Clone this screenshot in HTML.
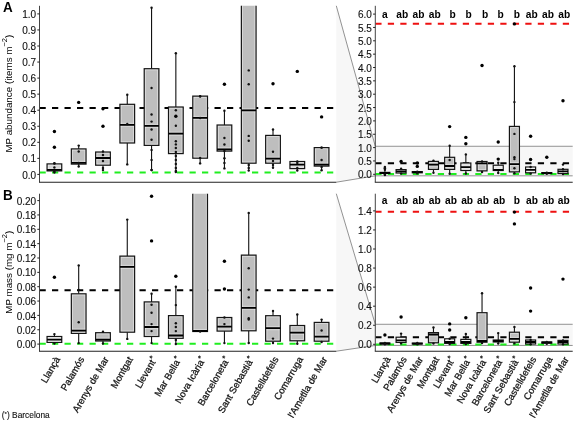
<!DOCTYPE html>
<html><head><meta charset="utf-8"><title>MP plot</title>
<style>html,body{margin:0;padding:0;background:#fff;}body{width:575px;height:422px;overflow:hidden;font-family:"Liberation Sans", sans-serif;}svg{display:block;will-change:transform;}</style>
</head><body>
<svg width="575" height="422" viewBox="0 0 575 422" font-family='"Liberation Sans", sans-serif'>
<rect width="575" height="422" fill="#fff"/>
<defs>
<clipPath id="cAL"><rect x="39.5" y="5.8" width="296.8" height="176.39999999999998"/></clipPath>
<clipPath id="cAR"><rect x="375.3" y="5.8" width="197.40000000000003" height="176.39999999999998"/></clipPath>
<clipPath id="cBL"><rect x="39.5" y="193.7" width="296.8" height="157.5"/></clipPath>
<clipPath id="cBR"><rect x="375.3" y="193.7" width="197.40000000000003" height="157.5"/></clipPath>
</defs>
<polygon points="336.3,5.8 375.3,146.26500000000001 572.7,146.26500000000001 572.7,175.835 375.3,175.835 336.3,182.2" fill="#f7f7f7"/>
<line x1="336.30" y1="5.80" x2="375.30" y2="146.27" stroke="#777" stroke-width="0.8" />
<line x1="336.30" y1="182.20" x2="375.30" y2="175.84" stroke="#777" stroke-width="0.8" />
<line x1="375.30" y1="146.27" x2="572.70" y2="146.27" stroke="#777" stroke-width="0.8" />
<line x1="375.30" y1="175.84" x2="572.70" y2="175.84" stroke="#777" stroke-width="0.8" />
<polygon points="336.3,193.7 375.3,324.28700000000003 572.7,324.28700000000003 572.7,345.453 375.3,345.453 336.3,351.2" fill="#f7f7f7"/>
<line x1="336.30" y1="193.70" x2="375.30" y2="324.29" stroke="#777" stroke-width="0.8" />
<line x1="336.30" y1="351.20" x2="375.30" y2="345.45" stroke="#777" stroke-width="0.8" />
<line x1="375.30" y1="324.29" x2="572.70" y2="324.29" stroke="#777" stroke-width="0.8" />
<line x1="375.30" y1="345.45" x2="572.70" y2="345.45" stroke="#777" stroke-width="0.8" />
<line x1="39.50" y1="107.90" x2="336.30" y2="107.90" stroke="#000" stroke-width="2" stroke-dasharray="6.25 6.25" clip-path="url(#cAL)"/>
<line x1="39.50" y1="172.50" x2="336.30" y2="172.50" stroke="#20ee20" stroke-width="2" stroke-dasharray="6.25 6.25" clip-path="url(#cAL)"/>
<line x1="375.30" y1="23.80" x2="572.70" y2="23.80" stroke="#ee1111" stroke-width="2" stroke-dasharray="6.25 6.25" clip-path="url(#cAR)"/>
<line x1="375.30" y1="163.30" x2="572.70" y2="163.30" stroke="#000" stroke-width="2" stroke-dasharray="6.25 6.25" clip-path="url(#cAR)"/>
<line x1="375.30" y1="174.10" x2="572.70" y2="174.10" stroke="#20ee20" stroke-width="2" stroke-dasharray="6.25 6.25" clip-path="url(#cAR)"/>
<line x1="39.50" y1="290.20" x2="336.30" y2="290.20" stroke="#000" stroke-width="2" stroke-dasharray="6.25 6.25" clip-path="url(#cBL)"/>
<line x1="39.50" y1="343.80" x2="336.30" y2="343.80" stroke="#20ee20" stroke-width="2" stroke-dasharray="6.25 6.25" clip-path="url(#cBL)"/>
<line x1="375.30" y1="211.80" x2="572.70" y2="211.80" stroke="#ee1111" stroke-width="2" stroke-dasharray="6.25 6.25" clip-path="url(#cBR)"/>
<line x1="375.30" y1="337.20" x2="572.70" y2="337.20" stroke="#000" stroke-width="2" stroke-dasharray="6.25 6.25" clip-path="url(#cBR)"/>
<line x1="375.30" y1="344.60" x2="572.70" y2="344.60" stroke="#20ee20" stroke-width="2" stroke-dasharray="6.25 6.25" clip-path="url(#cBR)"/>
<g clip-path="url(#cAL)">
<line x1="54.40" y1="163.20" x2="54.40" y2="163.90" stroke="#111" stroke-width="1.1" />
<line x1="54.40" y1="170.90" x2="54.40" y2="172.60" stroke="#111" stroke-width="1.1" />
<rect x="47.05" y="163.90" width="14.70" height="7.00" fill="#d4d4d4" stroke="#151515" stroke-width="1.2"/>
<rect x="48.30" y="165.15" width="12.20" height="4.50" fill="none" stroke="#fff" stroke-opacity="0.55" stroke-width="0.7"/>
<line x1="47.85" y1="168.25" x2="60.95" y2="168.25" stroke="#fff" stroke-width="0.7" stroke-opacity="0.55"/>
<line x1="47.05" y1="169.80" x2="61.75" y2="169.80" stroke="#000" stroke-width="1.8" />
<circle cx="54.40" cy="163.50" r="1.2" fill="#111"/>
<circle cx="54.40" cy="167.50" r="1.2" fill="#111"/>
<circle cx="54.40" cy="171.50" r="1.2" fill="#111"/>
<circle cx="54.40" cy="163.20" r="1.2" fill="#111"/>
<circle cx="54.40" cy="172.60" r="1.2" fill="#111"/>
<circle cx="54.40" cy="131.50" r="1.7" fill="#000"/>
<circle cx="54.40" cy="147.20" r="1.7" fill="#000"/>
<line x1="78.69" y1="145.60" x2="78.69" y2="148.90" stroke="#111" stroke-width="1.1" />
<line x1="78.69" y1="164.10" x2="78.69" y2="166.50" stroke="#111" stroke-width="1.1" />
<rect x="71.34" y="148.90" width="14.70" height="15.20" fill="#bebebe" stroke="#151515" stroke-width="1.2"/>
<rect x="72.59" y="150.15" width="12.20" height="12.70" fill="none" stroke="#fff" stroke-opacity="0.55" stroke-width="0.7"/>
<line x1="72.14" y1="161.25" x2="85.24" y2="161.25" stroke="#fff" stroke-width="0.7" stroke-opacity="0.55"/>
<line x1="71.34" y1="162.80" x2="86.04" y2="162.80" stroke="#000" stroke-width="1.8" />
<circle cx="78.69" cy="151.50" r="1.2" fill="#111"/>
<circle cx="78.69" cy="163.00" r="1.2" fill="#111"/>
<circle cx="78.69" cy="145.60" r="1.2" fill="#111"/>
<circle cx="78.69" cy="166.50" r="1.2" fill="#111"/>
<circle cx="78.69" cy="102.40" r="1.7" fill="#000"/>
<line x1="102.98" y1="151.50" x2="102.98" y2="152.00" stroke="#111" stroke-width="1.1" />
<line x1="102.98" y1="165.20" x2="102.98" y2="170.10" stroke="#111" stroke-width="1.1" />
<rect x="95.63" y="152.00" width="14.70" height="13.20" fill="#bebebe" stroke="#151515" stroke-width="1.2"/>
<rect x="96.88" y="153.25" width="12.20" height="10.70" fill="none" stroke="#fff" stroke-opacity="0.55" stroke-width="0.7"/>
<line x1="96.43" y1="156.45" x2="109.53" y2="156.45" stroke="#fff" stroke-width="0.7" stroke-opacity="0.55"/>
<line x1="96.43" y1="159.55" x2="109.53" y2="159.55" stroke="#fff" stroke-width="0.7" stroke-opacity="0.55"/>
<line x1="95.63" y1="158.00" x2="110.33" y2="158.00" stroke="#000" stroke-width="1.8" />
<circle cx="102.98" cy="155.00" r="1.2" fill="#111"/>
<circle cx="102.98" cy="161.00" r="1.2" fill="#111"/>
<circle cx="102.98" cy="168.00" r="1.2" fill="#111"/>
<circle cx="102.98" cy="151.50" r="1.2" fill="#111"/>
<circle cx="102.98" cy="170.10" r="1.2" fill="#111"/>
<circle cx="102.98" cy="126.30" r="1.7" fill="#000"/>
<circle cx="102.98" cy="108.80" r="1.7" fill="#000"/>
<line x1="127.27" y1="94.70" x2="127.27" y2="104.30" stroke="#111" stroke-width="1.1" />
<line x1="127.27" y1="143.00" x2="127.27" y2="164.40" stroke="#111" stroke-width="1.1" />
<rect x="119.92" y="104.30" width="14.70" height="38.70" fill="#bebebe" stroke="#151515" stroke-width="1.2"/>
<rect x="121.17" y="105.55" width="12.20" height="36.20" fill="none" stroke="#fff" stroke-opacity="0.55" stroke-width="0.7"/>
<line x1="120.72" y1="123.25" x2="133.82" y2="123.25" stroke="#fff" stroke-width="0.7" stroke-opacity="0.55"/>
<line x1="120.72" y1="126.35" x2="133.82" y2="126.35" stroke="#fff" stroke-width="0.7" stroke-opacity="0.55"/>
<line x1="119.92" y1="124.80" x2="134.62" y2="124.80" stroke="#000" stroke-width="1.8" />
<circle cx="127.27" cy="124.00" r="1.2" fill="#111"/>
<circle cx="127.27" cy="94.70" r="1.2" fill="#111"/>
<circle cx="127.27" cy="164.40" r="1.2" fill="#111"/>
<line x1="151.56" y1="7.70" x2="151.56" y2="68.70" stroke="#111" stroke-width="1.1" />
<line x1="151.56" y1="145.40" x2="151.56" y2="170.00" stroke="#111" stroke-width="1.1" />
<rect x="144.21" y="68.70" width="14.70" height="76.70" fill="#bebebe" stroke="#151515" stroke-width="1.2"/>
<rect x="145.46" y="69.95" width="12.20" height="74.20" fill="none" stroke="#fff" stroke-opacity="0.55" stroke-width="0.7"/>
<line x1="145.01" y1="124.25" x2="158.11" y2="124.25" stroke="#fff" stroke-width="0.7" stroke-opacity="0.55"/>
<line x1="145.01" y1="127.35" x2="158.11" y2="127.35" stroke="#fff" stroke-width="0.7" stroke-opacity="0.55"/>
<line x1="144.21" y1="125.80" x2="158.91" y2="125.80" stroke="#000" stroke-width="1.8" />
<circle cx="151.56" cy="88.00" r="1.2" fill="#111"/>
<circle cx="151.56" cy="114.50" r="1.2" fill="#111"/>
<circle cx="151.56" cy="121.60" r="1.2" fill="#111"/>
<circle cx="151.56" cy="129.50" r="1.2" fill="#111"/>
<circle cx="151.56" cy="139.70" r="1.2" fill="#111"/>
<circle cx="151.56" cy="150.00" r="1.2" fill="#111"/>
<circle cx="151.56" cy="160.00" r="1.2" fill="#111"/>
<circle cx="151.56" cy="170.00" r="1.2" fill="#111"/>
<circle cx="151.56" cy="7.70" r="1.2" fill="#111"/>
<circle cx="151.56" cy="170.00" r="1.2" fill="#111"/>
<line x1="175.85" y1="53.30" x2="175.85" y2="107.00" stroke="#111" stroke-width="1.1" />
<line x1="175.85" y1="153.60" x2="175.85" y2="172.00" stroke="#111" stroke-width="1.1" />
<rect x="168.50" y="107.00" width="14.70" height="46.60" fill="#bebebe" stroke="#151515" stroke-width="1.2"/>
<rect x="169.75" y="108.25" width="12.20" height="44.10" fill="none" stroke="#fff" stroke-opacity="0.55" stroke-width="0.7"/>
<line x1="169.30" y1="132.15" x2="182.40" y2="132.15" stroke="#fff" stroke-width="0.7" stroke-opacity="0.55"/>
<line x1="169.30" y1="135.25" x2="182.40" y2="135.25" stroke="#fff" stroke-width="0.7" stroke-opacity="0.55"/>
<line x1="168.50" y1="133.70" x2="183.20" y2="133.70" stroke="#000" stroke-width="1.8" />
<circle cx="175.85" cy="110.30" r="1.2" fill="#111"/>
<circle cx="175.85" cy="125.80" r="1.2" fill="#111"/>
<circle cx="175.85" cy="141.20" r="1.2" fill="#111"/>
<circle cx="175.85" cy="144.40" r="1.2" fill="#111"/>
<circle cx="175.85" cy="148.00" r="1.2" fill="#111"/>
<circle cx="175.85" cy="152.00" r="1.2" fill="#111"/>
<circle cx="175.85" cy="156.00" r="1.2" fill="#111"/>
<circle cx="175.85" cy="160.00" r="1.2" fill="#111"/>
<circle cx="175.85" cy="164.00" r="1.2" fill="#111"/>
<circle cx="175.85" cy="168.00" r="1.2" fill="#111"/>
<circle cx="175.85" cy="171.00" r="1.2" fill="#111"/>
<circle cx="175.85" cy="53.30" r="1.2" fill="#111"/>
<circle cx="175.85" cy="172.00" r="1.2" fill="#111"/>
<circle cx="175.85" cy="116.20" r="1.7" fill="#000"/>
<line x1="200.14" y1="96.10" x2="200.14" y2="96.10" stroke="#111" stroke-width="1.1" />
<line x1="200.14" y1="158.20" x2="200.14" y2="163.40" stroke="#111" stroke-width="1.1" />
<rect x="192.79" y="96.10" width="14.70" height="62.10" fill="#bebebe" stroke="#151515" stroke-width="1.2"/>
<rect x="194.04" y="97.35" width="12.20" height="59.60" fill="none" stroke="#fff" stroke-opacity="0.55" stroke-width="0.7"/>
<line x1="193.59" y1="116.35" x2="206.69" y2="116.35" stroke="#fff" stroke-width="0.7" stroke-opacity="0.55"/>
<line x1="193.59" y1="119.45" x2="206.69" y2="119.45" stroke="#fff" stroke-width="0.7" stroke-opacity="0.55"/>
<line x1="192.79" y1="117.90" x2="207.49" y2="117.90" stroke="#000" stroke-width="1.8" />
<circle cx="200.14" cy="96.50" r="1.2" fill="#111"/>
<circle cx="200.14" cy="118.00" r="1.2" fill="#111"/>
<circle cx="200.14" cy="158.00" r="1.2" fill="#111"/>
<circle cx="200.14" cy="96.10" r="1.2" fill="#111"/>
<circle cx="200.14" cy="163.40" r="1.2" fill="#111"/>
<line x1="224.43" y1="110.80" x2="224.43" y2="125.00" stroke="#111" stroke-width="1.1" />
<line x1="224.43" y1="151.10" x2="224.43" y2="168.40" stroke="#111" stroke-width="1.1" />
<rect x="217.08" y="125.00" width="14.70" height="26.10" fill="#bebebe" stroke="#151515" stroke-width="1.2"/>
<rect x="218.33" y="126.25" width="12.20" height="23.60" fill="none" stroke="#fff" stroke-opacity="0.55" stroke-width="0.7"/>
<line x1="217.88" y1="147.85" x2="230.98" y2="147.85" stroke="#fff" stroke-width="0.7" stroke-opacity="0.55"/>
<line x1="217.08" y1="149.40" x2="231.78" y2="149.40" stroke="#000" stroke-width="1.8" />
<circle cx="224.43" cy="138.00" r="1.2" fill="#111"/>
<circle cx="224.43" cy="144.50" r="1.2" fill="#111"/>
<circle cx="224.43" cy="151.00" r="1.2" fill="#111"/>
<circle cx="224.43" cy="158.20" r="1.2" fill="#111"/>
<circle cx="224.43" cy="163.00" r="1.2" fill="#111"/>
<circle cx="224.43" cy="110.80" r="1.2" fill="#111"/>
<circle cx="224.43" cy="168.40" r="1.2" fill="#111"/>
<circle cx="224.43" cy="84.30" r="1.7" fill="#000"/>
<line x1="248.72" y1="3.80" x2="248.72" y2="3.80" stroke="#111" stroke-width="1.1" />
<line x1="248.72" y1="163.20" x2="248.72" y2="170.60" stroke="#111" stroke-width="1.1" />
<rect x="241.37" y="3.80" width="14.70" height="159.40" fill="#bebebe" stroke="#151515" stroke-width="1.2"/>
<rect x="242.62" y="5.05" width="12.20" height="156.90" fill="none" stroke="#fff" stroke-opacity="0.55" stroke-width="0.7"/>
<line x1="242.17" y1="108.75" x2="255.27" y2="108.75" stroke="#fff" stroke-width="0.7" stroke-opacity="0.55"/>
<line x1="242.17" y1="111.85" x2="255.27" y2="111.85" stroke="#fff" stroke-width="0.7" stroke-opacity="0.55"/>
<line x1="241.37" y1="110.30" x2="256.07" y2="110.30" stroke="#000" stroke-width="1.8" />
<circle cx="248.72" cy="70.40" r="1.2" fill="#111"/>
<circle cx="248.72" cy="84.20" r="1.2" fill="#111"/>
<circle cx="248.72" cy="135.90" r="1.2" fill="#111"/>
<circle cx="248.72" cy="140.80" r="1.2" fill="#111"/>
<circle cx="248.72" cy="165.00" r="1.2" fill="#111"/>
<circle cx="248.72" cy="168.00" r="1.2" fill="#111"/>
<circle cx="248.72" cy="170.60" r="1.2" fill="#111"/>
<line x1="273.01" y1="129.50" x2="273.01" y2="135.40" stroke="#111" stroke-width="1.1" />
<line x1="273.01" y1="163.20" x2="273.01" y2="167.80" stroke="#111" stroke-width="1.1" />
<rect x="265.66" y="135.40" width="14.70" height="27.80" fill="#bebebe" stroke="#151515" stroke-width="1.2"/>
<rect x="266.91" y="136.65" width="12.20" height="25.30" fill="none" stroke="#fff" stroke-opacity="0.55" stroke-width="0.7"/>
<line x1="266.46" y1="157.15" x2="279.56" y2="157.15" stroke="#fff" stroke-width="0.7" stroke-opacity="0.55"/>
<line x1="266.46" y1="160.25" x2="279.56" y2="160.25" stroke="#fff" stroke-width="0.7" stroke-opacity="0.55"/>
<line x1="265.66" y1="158.70" x2="280.36" y2="158.70" stroke="#000" stroke-width="1.8" />
<circle cx="273.01" cy="151.80" r="1.2" fill="#111"/>
<circle cx="273.01" cy="161.00" r="1.2" fill="#111"/>
<circle cx="273.01" cy="165.00" r="1.2" fill="#111"/>
<circle cx="273.01" cy="129.50" r="1.2" fill="#111"/>
<circle cx="273.01" cy="167.80" r="1.2" fill="#111"/>
<circle cx="273.01" cy="83.80" r="1.7" fill="#000"/>
<line x1="297.30" y1="161.50" x2="297.30" y2="161.50" stroke="#111" stroke-width="1.1" />
<line x1="297.30" y1="168.60" x2="297.30" y2="170.50" stroke="#111" stroke-width="1.1" />
<rect x="289.95" y="161.50" width="14.70" height="7.10" fill="#d4d4d4" stroke="#151515" stroke-width="1.2"/>
<rect x="291.20" y="162.75" width="12.20" height="4.60" fill="none" stroke="#fff" stroke-opacity="0.55" stroke-width="0.7"/>
<line x1="290.75" y1="163.05" x2="303.85" y2="163.05" stroke="#fff" stroke-width="0.7" stroke-opacity="0.55"/>
<line x1="290.75" y1="166.15" x2="303.85" y2="166.15" stroke="#fff" stroke-width="0.7" stroke-opacity="0.55"/>
<line x1="289.95" y1="164.60" x2="304.65" y2="164.60" stroke="#000" stroke-width="1.8" />
<circle cx="297.30" cy="163.00" r="1.2" fill="#111"/>
<circle cx="297.30" cy="168.00" r="1.2" fill="#111"/>
<circle cx="297.30" cy="161.50" r="1.2" fill="#111"/>
<circle cx="297.30" cy="170.50" r="1.2" fill="#111"/>
<circle cx="297.30" cy="71.40" r="1.7" fill="#000"/>
<line x1="321.59" y1="147.60" x2="321.59" y2="147.60" stroke="#111" stroke-width="1.1" />
<line x1="321.59" y1="166.10" x2="321.59" y2="170.30" stroke="#111" stroke-width="1.1" />
<rect x="314.24" y="147.60" width="14.70" height="18.50" fill="#bebebe" stroke="#151515" stroke-width="1.2"/>
<rect x="315.49" y="148.85" width="12.20" height="16.00" fill="none" stroke="#fff" stroke-opacity="0.55" stroke-width="0.7"/>
<line x1="315.04" y1="163.05" x2="328.14" y2="163.05" stroke="#fff" stroke-width="0.7" stroke-opacity="0.55"/>
<line x1="314.24" y1="164.60" x2="328.94" y2="164.60" stroke="#000" stroke-width="1.8" />
<circle cx="321.59" cy="147.60" r="1.2" fill="#111"/>
<circle cx="321.59" cy="160.00" r="1.2" fill="#111"/>
<circle cx="321.59" cy="167.00" r="1.2" fill="#111"/>
<circle cx="321.59" cy="147.60" r="1.2" fill="#111"/>
<circle cx="321.59" cy="170.30" r="1.2" fill="#111"/>
<circle cx="321.59" cy="116.90" r="1.7" fill="#000"/>
</g>
<g clip-path="url(#cAR)">
<line x1="384.90" y1="168.00" x2="384.90" y2="172.40" stroke="#111" stroke-width="1.1" />
<line x1="384.90" y1="173.40" x2="384.90" y2="175.00" stroke="#111" stroke-width="1.1" />
<rect x="379.90" y="172.40" width="10.00" height="1.00" fill="#e6e6e6" stroke="#151515" stroke-width="1.2"/>
<line x1="379.90" y1="173.00" x2="389.90" y2="173.00" stroke="#000" stroke-width="1.8" />
<circle cx="384.90" cy="166.90" r="1.2" fill="#111"/>
<circle cx="384.90" cy="168.30" r="1.2" fill="#111"/>
<circle cx="384.90" cy="169.80" r="1.2" fill="#111"/>
<circle cx="384.90" cy="174.50" r="1.2" fill="#111"/>
<circle cx="384.90" cy="168.00" r="1.2" fill="#111"/>
<circle cx="384.90" cy="175.00" r="1.2" fill="#111"/>
<line x1="401.09" y1="168.80" x2="401.09" y2="169.60" stroke="#111" stroke-width="1.1" />
<line x1="401.09" y1="173.00" x2="401.09" y2="173.60" stroke="#111" stroke-width="1.1" />
<rect x="396.09" y="169.60" width="10.00" height="3.40" fill="#e6e6e6" stroke="#151515" stroke-width="1.2"/>
<rect x="397.34" y="170.85" width="7.50" height="0.90" fill="none" stroke="#fff" stroke-opacity="0.55" stroke-width="0.7"/>
<line x1="396.09" y1="171.40" x2="406.09" y2="171.40" stroke="#000" stroke-width="1.8" />
<circle cx="401.09" cy="168.80" r="1.2" fill="#111"/>
<circle cx="401.09" cy="173.60" r="1.2" fill="#111"/>
<circle cx="401.09" cy="161.40" r="1.7" fill="#000"/>
<line x1="417.28" y1="171.60" x2="417.28" y2="171.60" stroke="#111" stroke-width="1.1" />
<line x1="417.28" y1="172.80" x2="417.28" y2="173.40" stroke="#111" stroke-width="1.1" />
<rect x="412.28" y="171.60" width="10.00" height="1.20" fill="#e6e6e6" stroke="#151515" stroke-width="1.2"/>
<line x1="412.28" y1="172.20" x2="422.28" y2="172.20" stroke="#000" stroke-width="1.8" />
<circle cx="417.28" cy="171.60" r="1.2" fill="#111"/>
<circle cx="417.28" cy="173.40" r="1.2" fill="#111"/>
<circle cx="417.28" cy="163.00" r="1.7" fill="#000"/>
<circle cx="417.28" cy="166.40" r="1.7" fill="#000"/>
<line x1="433.47" y1="160.60" x2="433.47" y2="161.40" stroke="#111" stroke-width="1.1" />
<line x1="433.47" y1="169.40" x2="433.47" y2="172.70" stroke="#111" stroke-width="1.1" />
<rect x="428.47" y="161.40" width="10.00" height="8.00" fill="#bebebe" stroke="#151515" stroke-width="1.2"/>
<rect x="429.72" y="162.65" width="7.50" height="5.50" fill="none" stroke="#fff" stroke-opacity="0.55" stroke-width="0.7"/>
<line x1="429.27" y1="163.15" x2="437.67" y2="163.15" stroke="#fff" stroke-width="0.7" stroke-opacity="0.55"/>
<line x1="429.27" y1="166.25" x2="437.67" y2="166.25" stroke="#fff" stroke-width="0.7" stroke-opacity="0.55"/>
<line x1="428.47" y1="164.70" x2="438.47" y2="164.70" stroke="#000" stroke-width="1.8" />
<circle cx="433.47" cy="160.60" r="1.2" fill="#111"/>
<circle cx="433.47" cy="172.70" r="1.2" fill="#111"/>
<line x1="449.66" y1="145.70" x2="449.66" y2="157.30" stroke="#111" stroke-width="1.1" />
<line x1="449.66" y1="169.40" x2="449.66" y2="173.80" stroke="#111" stroke-width="1.1" />
<rect x="444.66" y="157.30" width="10.00" height="12.10" fill="#bebebe" stroke="#151515" stroke-width="1.2"/>
<rect x="445.91" y="158.55" width="7.50" height="9.60" fill="none" stroke="#fff" stroke-opacity="0.55" stroke-width="0.7"/>
<line x1="445.46" y1="164.45" x2="453.86" y2="164.45" stroke="#fff" stroke-width="0.7" stroke-opacity="0.55"/>
<line x1="445.46" y1="167.55" x2="453.86" y2="167.55" stroke="#fff" stroke-width="0.7" stroke-opacity="0.55"/>
<line x1="444.66" y1="166.00" x2="454.66" y2="166.00" stroke="#000" stroke-width="1.8" />
<circle cx="449.66" cy="160.00" r="1.2" fill="#111"/>
<circle cx="449.66" cy="145.70" r="1.2" fill="#111"/>
<circle cx="449.66" cy="173.80" r="1.2" fill="#111"/>
<circle cx="449.66" cy="126.60" r="1.7" fill="#000"/>
<line x1="465.85" y1="154.40" x2="465.85" y2="163.00" stroke="#111" stroke-width="1.1" />
<line x1="465.85" y1="170.50" x2="465.85" y2="173.50" stroke="#111" stroke-width="1.1" />
<rect x="460.85" y="163.00" width="10.00" height="7.50" fill="#d4d4d4" stroke="#151515" stroke-width="1.2"/>
<rect x="462.10" y="164.25" width="7.50" height="5.00" fill="none" stroke="#fff" stroke-opacity="0.55" stroke-width="0.7"/>
<line x1="461.65" y1="165.65" x2="470.05" y2="165.65" stroke="#fff" stroke-width="0.7" stroke-opacity="0.55"/>
<line x1="461.65" y1="168.75" x2="470.05" y2="168.75" stroke="#fff" stroke-width="0.7" stroke-opacity="0.55"/>
<line x1="460.85" y1="167.20" x2="470.85" y2="167.20" stroke="#000" stroke-width="1.8" />
<circle cx="465.85" cy="154.40" r="1.2" fill="#111"/>
<circle cx="465.85" cy="173.50" r="1.2" fill="#111"/>
<circle cx="465.85" cy="137.40" r="1.7" fill="#000"/>
<circle cx="465.85" cy="143.70" r="1.7" fill="#000"/>
<line x1="482.04" y1="161.50" x2="482.04" y2="161.50" stroke="#111" stroke-width="1.1" />
<line x1="482.04" y1="170.90" x2="482.04" y2="172.00" stroke="#111" stroke-width="1.1" />
<rect x="477.04" y="161.50" width="10.00" height="9.40" fill="#bebebe" stroke="#151515" stroke-width="1.2"/>
<rect x="478.29" y="162.75" width="7.50" height="6.90" fill="none" stroke="#fff" stroke-opacity="0.55" stroke-width="0.7"/>
<line x1="477.84" y1="164.95" x2="486.24" y2="164.95" stroke="#fff" stroke-width="0.7" stroke-opacity="0.55"/>
<line x1="477.04" y1="163.40" x2="487.04" y2="163.40" stroke="#000" stroke-width="1.8" />
<circle cx="482.04" cy="161.50" r="1.2" fill="#111"/>
<circle cx="482.04" cy="172.00" r="1.2" fill="#111"/>
<circle cx="482.04" cy="65.50" r="1.7" fill="#000"/>
<line x1="498.23" y1="162.70" x2="498.23" y2="165.20" stroke="#111" stroke-width="1.1" />
<line x1="498.23" y1="170.50" x2="498.23" y2="173.00" stroke="#111" stroke-width="1.1" />
<rect x="493.23" y="165.20" width="10.00" height="5.30" fill="#e6e6e6" stroke="#151515" stroke-width="1.2"/>
<rect x="494.48" y="166.45" width="7.50" height="2.80" fill="none" stroke="#fff" stroke-opacity="0.55" stroke-width="0.7"/>
<line x1="494.03" y1="168.25" x2="502.43" y2="168.25" stroke="#fff" stroke-width="0.7" stroke-opacity="0.55"/>
<line x1="493.23" y1="169.80" x2="503.23" y2="169.80" stroke="#000" stroke-width="1.8" />
<circle cx="498.23" cy="162.70" r="1.2" fill="#111"/>
<circle cx="498.23" cy="173.00" r="1.2" fill="#111"/>
<circle cx="498.23" cy="142.00" r="1.7" fill="#000"/>
<circle cx="498.23" cy="159.10" r="1.7" fill="#000"/>
<line x1="514.42" y1="66.30" x2="514.42" y2="126.40" stroke="#111" stroke-width="1.1" />
<line x1="514.42" y1="171.90" x2="514.42" y2="173.30" stroke="#111" stroke-width="1.1" />
<rect x="509.42" y="126.40" width="10.00" height="45.50" fill="#bebebe" stroke="#151515" stroke-width="1.2"/>
<rect x="510.67" y="127.65" width="7.50" height="43.00" fill="none" stroke="#fff" stroke-opacity="0.55" stroke-width="0.7"/>
<line x1="510.22" y1="162.55" x2="518.62" y2="162.55" stroke="#fff" stroke-width="0.7" stroke-opacity="0.55"/>
<line x1="510.22" y1="165.65" x2="518.62" y2="165.65" stroke="#fff" stroke-width="0.7" stroke-opacity="0.55"/>
<line x1="509.42" y1="164.10" x2="519.42" y2="164.10" stroke="#000" stroke-width="1.8" />
<circle cx="514.42" cy="102.10" r="1.2" fill="#111"/>
<circle cx="514.42" cy="133.90" r="1.2" fill="#111"/>
<circle cx="514.42" cy="157.30" r="1.2" fill="#111"/>
<circle cx="514.42" cy="159.10" r="1.2" fill="#111"/>
<circle cx="514.42" cy="168.30" r="1.2" fill="#111"/>
<circle cx="514.42" cy="66.30" r="1.2" fill="#111"/>
<circle cx="514.42" cy="173.30" r="1.2" fill="#111"/>
<circle cx="514.42" cy="23.90" r="1.7" fill="#000"/>
<line x1="530.61" y1="167.00" x2="530.61" y2="167.00" stroke="#111" stroke-width="1.1" />
<line x1="530.61" y1="172.80" x2="530.61" y2="173.60" stroke="#111" stroke-width="1.1" />
<rect x="525.61" y="167.00" width="10.00" height="5.80" fill="#e6e6e6" stroke="#151515" stroke-width="1.2"/>
<rect x="526.86" y="168.25" width="7.50" height="3.30" fill="none" stroke="#fff" stroke-opacity="0.55" stroke-width="0.7"/>
<line x1="526.41" y1="168.25" x2="534.81" y2="168.25" stroke="#fff" stroke-width="0.7" stroke-opacity="0.55"/>
<line x1="526.41" y1="171.35" x2="534.81" y2="171.35" stroke="#fff" stroke-width="0.7" stroke-opacity="0.55"/>
<line x1="525.61" y1="169.80" x2="535.61" y2="169.80" stroke="#000" stroke-width="1.8" />
<circle cx="530.61" cy="167.00" r="1.2" fill="#111"/>
<circle cx="530.61" cy="173.60" r="1.2" fill="#111"/>
<circle cx="530.61" cy="136.20" r="1.7" fill="#000"/>
<circle cx="530.61" cy="159.50" r="1.7" fill="#000"/>
<line x1="546.80" y1="172.60" x2="546.80" y2="172.60" stroke="#111" stroke-width="1.1" />
<line x1="546.80" y1="173.60" x2="546.80" y2="173.80" stroke="#111" stroke-width="1.1" />
<rect x="541.80" y="172.60" width="10.00" height="1.00" fill="#e6e6e6" stroke="#151515" stroke-width="1.2"/>
<line x1="541.80" y1="173.20" x2="551.80" y2="173.20" stroke="#000" stroke-width="1.8" />
<circle cx="546.80" cy="172.60" r="1.2" fill="#111"/>
<circle cx="546.80" cy="173.80" r="1.2" fill="#111"/>
<circle cx="546.80" cy="157.20" r="1.7" fill="#000"/>
<line x1="562.99" y1="169.30" x2="562.99" y2="169.30" stroke="#111" stroke-width="1.1" />
<line x1="562.99" y1="173.60" x2="562.99" y2="174.00" stroke="#111" stroke-width="1.1" />
<rect x="557.99" y="169.30" width="10.00" height="4.30" fill="#e6e6e6" stroke="#151515" stroke-width="1.2"/>
<rect x="559.24" y="170.55" width="7.50" height="1.80" fill="none" stroke="#fff" stroke-opacity="0.55" stroke-width="0.7"/>
<line x1="557.99" y1="171.40" x2="567.99" y2="171.40" stroke="#000" stroke-width="1.8" />
<circle cx="562.99" cy="164.60" r="1.2" fill="#111"/>
<circle cx="562.99" cy="169.30" r="1.2" fill="#111"/>
<circle cx="562.99" cy="174.00" r="1.2" fill="#111"/>
<circle cx="562.99" cy="100.70" r="1.7" fill="#000"/>
</g>
<g clip-path="url(#cBL)">
<line x1="54.40" y1="334.10" x2="54.40" y2="336.50" stroke="#111" stroke-width="1.1" />
<line x1="54.40" y1="342.40" x2="54.40" y2="343.60" stroke="#111" stroke-width="1.1" />
<rect x="47.05" y="336.50" width="14.70" height="5.90" fill="#e6e6e6" stroke="#151515" stroke-width="1.2"/>
<rect x="48.30" y="337.75" width="12.20" height="3.40" fill="none" stroke="#fff" stroke-opacity="0.55" stroke-width="0.7"/>
<line x1="47.85" y1="338.05" x2="60.95" y2="338.05" stroke="#fff" stroke-width="0.7" stroke-opacity="0.55"/>
<line x1="47.85" y1="341.15" x2="60.95" y2="341.15" stroke="#fff" stroke-width="0.7" stroke-opacity="0.55"/>
<line x1="47.05" y1="339.60" x2="61.75" y2="339.60" stroke="#000" stroke-width="1.8" />
<circle cx="54.40" cy="334.10" r="1.2" fill="#111"/>
<circle cx="54.40" cy="343.60" r="1.2" fill="#111"/>
<circle cx="54.40" cy="277.30" r="1.7" fill="#000"/>
<line x1="78.69" y1="265.40" x2="78.69" y2="293.80" stroke="#111" stroke-width="1.1" />
<line x1="78.69" y1="333.40" x2="78.69" y2="343.10" stroke="#111" stroke-width="1.1" />
<rect x="71.34" y="293.80" width="14.70" height="39.60" fill="#bebebe" stroke="#151515" stroke-width="1.2"/>
<rect x="72.59" y="295.05" width="12.20" height="37.10" fill="none" stroke="#fff" stroke-opacity="0.55" stroke-width="0.7"/>
<line x1="72.14" y1="329.05" x2="85.24" y2="329.05" stroke="#fff" stroke-width="0.7" stroke-opacity="0.55"/>
<line x1="72.14" y1="332.15" x2="85.24" y2="332.15" stroke="#fff" stroke-width="0.7" stroke-opacity="0.55"/>
<line x1="71.34" y1="330.60" x2="86.04" y2="330.60" stroke="#000" stroke-width="1.8" />
<circle cx="78.69" cy="322.30" r="1.2" fill="#111"/>
<circle cx="78.69" cy="290.00" r="1.2" fill="#111"/>
<circle cx="78.69" cy="265.40" r="1.2" fill="#111"/>
<circle cx="78.69" cy="343.10" r="1.2" fill="#111"/>
<line x1="102.98" y1="331.70" x2="102.98" y2="332.70" stroke="#111" stroke-width="1.1" />
<line x1="102.98" y1="341.00" x2="102.98" y2="343.50" stroke="#111" stroke-width="1.1" />
<rect x="95.63" y="332.70" width="14.70" height="8.30" fill="#bebebe" stroke="#151515" stroke-width="1.2"/>
<rect x="96.88" y="333.95" width="12.20" height="5.80" fill="none" stroke="#fff" stroke-opacity="0.55" stroke-width="0.7"/>
<line x1="96.43" y1="338.15" x2="109.53" y2="338.15" stroke="#fff" stroke-width="0.7" stroke-opacity="0.55"/>
<line x1="95.63" y1="339.70" x2="110.33" y2="339.70" stroke="#000" stroke-width="1.8" />
<circle cx="102.98" cy="331.70" r="1.2" fill="#111"/>
<circle cx="102.98" cy="343.50" r="1.2" fill="#111"/>
<line x1="127.27" y1="219.60" x2="127.27" y2="256.10" stroke="#111" stroke-width="1.1" />
<line x1="127.27" y1="332.20" x2="127.27" y2="338.90" stroke="#111" stroke-width="1.1" />
<rect x="119.92" y="256.10" width="14.70" height="76.10" fill="#bebebe" stroke="#151515" stroke-width="1.2"/>
<rect x="121.17" y="257.35" width="12.20" height="73.60" fill="none" stroke="#fff" stroke-opacity="0.55" stroke-width="0.7"/>
<line x1="120.72" y1="265.35" x2="133.82" y2="265.35" stroke="#fff" stroke-width="0.7" stroke-opacity="0.55"/>
<line x1="120.72" y1="268.45" x2="133.82" y2="268.45" stroke="#fff" stroke-width="0.7" stroke-opacity="0.55"/>
<line x1="119.92" y1="266.90" x2="134.62" y2="266.90" stroke="#000" stroke-width="1.8" />
<circle cx="127.27" cy="219.60" r="1.2" fill="#111"/>
<circle cx="127.27" cy="338.90" r="1.2" fill="#111"/>
<line x1="151.56" y1="293.70" x2="151.56" y2="301.90" stroke="#111" stroke-width="1.1" />
<line x1="151.56" y1="336.50" x2="151.56" y2="343.10" stroke="#111" stroke-width="1.1" />
<rect x="144.21" y="301.90" width="14.70" height="34.60" fill="#bebebe" stroke="#151515" stroke-width="1.2"/>
<rect x="145.46" y="303.15" width="12.20" height="32.10" fill="none" stroke="#fff" stroke-opacity="0.55" stroke-width="0.7"/>
<line x1="145.01" y1="325.45" x2="158.11" y2="325.45" stroke="#fff" stroke-width="0.7" stroke-opacity="0.55"/>
<line x1="145.01" y1="328.55" x2="158.11" y2="328.55" stroke="#fff" stroke-width="0.7" stroke-opacity="0.55"/>
<line x1="144.21" y1="327.00" x2="158.91" y2="327.00" stroke="#000" stroke-width="1.8" />
<circle cx="151.56" cy="304.70" r="1.2" fill="#111"/>
<circle cx="151.56" cy="312.70" r="1.2" fill="#111"/>
<circle cx="151.56" cy="324.10" r="1.2" fill="#111"/>
<circle cx="151.56" cy="331.10" r="1.2" fill="#111"/>
<circle cx="151.56" cy="293.70" r="1.2" fill="#111"/>
<circle cx="151.56" cy="343.10" r="1.2" fill="#111"/>
<circle cx="151.56" cy="196.30" r="1.7" fill="#000"/>
<circle cx="151.56" cy="240.90" r="1.7" fill="#000"/>
<line x1="175.85" y1="286.70" x2="175.85" y2="315.60" stroke="#111" stroke-width="1.1" />
<line x1="175.85" y1="338.30" x2="175.85" y2="344.00" stroke="#111" stroke-width="1.1" />
<rect x="168.50" y="315.60" width="14.70" height="22.70" fill="#bebebe" stroke="#151515" stroke-width="1.2"/>
<rect x="169.75" y="316.85" width="12.20" height="20.20" fill="none" stroke="#fff" stroke-opacity="0.55" stroke-width="0.7"/>
<line x1="169.30" y1="333.95" x2="182.40" y2="333.95" stroke="#fff" stroke-width="0.7" stroke-opacity="0.55"/>
<line x1="169.30" y1="337.05" x2="182.40" y2="337.05" stroke="#fff" stroke-width="0.7" stroke-opacity="0.55"/>
<line x1="168.50" y1="335.50" x2="183.20" y2="335.50" stroke="#000" stroke-width="1.8" />
<circle cx="175.85" cy="305.10" r="1.2" fill="#111"/>
<circle cx="175.85" cy="323.20" r="1.2" fill="#111"/>
<circle cx="175.85" cy="327.00" r="1.2" fill="#111"/>
<circle cx="175.85" cy="331.10" r="1.2" fill="#111"/>
<circle cx="175.85" cy="340.00" r="1.2" fill="#111"/>
<circle cx="175.85" cy="286.70" r="1.2" fill="#111"/>
<circle cx="175.85" cy="344.00" r="1.2" fill="#111"/>
<circle cx="175.85" cy="276.30" r="1.7" fill="#000"/>
<line x1="200.14" y1="191.70" x2="200.14" y2="191.70" stroke="#111" stroke-width="1.1" />
<line x1="200.14" y1="331.50" x2="200.14" y2="331.50" stroke="#111" stroke-width="1.1" />
<rect x="192.79" y="191.70" width="14.70" height="139.80" fill="#bebebe" stroke="#151515" stroke-width="1.2"/>
<rect x="194.04" y="192.95" width="12.20" height="137.30" fill="none" stroke="#fff" stroke-opacity="0.55" stroke-width="0.7"/>
<line x1="193.59" y1="329.45" x2="206.69" y2="329.45" stroke="#fff" stroke-width="0.7" stroke-opacity="0.55"/>
<line x1="192.79" y1="331.00" x2="207.49" y2="331.00" stroke="#000" stroke-width="1.8" />
<circle cx="200.14" cy="331.50" r="1.2" fill="#111"/>
<line x1="224.43" y1="317.50" x2="224.43" y2="317.50" stroke="#111" stroke-width="1.1" />
<line x1="224.43" y1="331.10" x2="224.43" y2="343.10" stroke="#111" stroke-width="1.1" />
<rect x="217.08" y="317.50" width="14.70" height="13.60" fill="#bebebe" stroke="#151515" stroke-width="1.2"/>
<rect x="218.33" y="318.75" width="12.20" height="11.10" fill="none" stroke="#fff" stroke-opacity="0.55" stroke-width="0.7"/>
<line x1="217.88" y1="325.05" x2="230.98" y2="325.05" stroke="#fff" stroke-width="0.7" stroke-opacity="0.55"/>
<line x1="217.88" y1="328.15" x2="230.98" y2="328.15" stroke="#fff" stroke-width="0.7" stroke-opacity="0.55"/>
<line x1="217.08" y1="326.60" x2="231.78" y2="326.60" stroke="#000" stroke-width="1.8" />
<circle cx="224.43" cy="324.10" r="1.2" fill="#111"/>
<circle cx="224.43" cy="317.50" r="1.2" fill="#111"/>
<circle cx="224.43" cy="343.10" r="1.2" fill="#111"/>
<circle cx="224.43" cy="261.20" r="1.7" fill="#000"/>
<circle cx="224.43" cy="289.00" r="1.7" fill="#000"/>
<line x1="248.72" y1="212.90" x2="248.72" y2="255.10" stroke="#111" stroke-width="1.1" />
<line x1="248.72" y1="330.80" x2="248.72" y2="343.00" stroke="#111" stroke-width="1.1" />
<rect x="241.37" y="255.10" width="14.70" height="75.70" fill="#bebebe" stroke="#151515" stroke-width="1.2"/>
<rect x="242.62" y="256.35" width="12.20" height="73.20" fill="none" stroke="#fff" stroke-opacity="0.55" stroke-width="0.7"/>
<line x1="242.17" y1="306.25" x2="255.27" y2="306.25" stroke="#fff" stroke-width="0.7" stroke-opacity="0.55"/>
<line x1="242.17" y1="309.35" x2="255.27" y2="309.35" stroke="#fff" stroke-width="0.7" stroke-opacity="0.55"/>
<line x1="241.37" y1="307.80" x2="256.07" y2="307.80" stroke="#000" stroke-width="1.8" />
<circle cx="248.72" cy="268.20" r="1.2" fill="#111"/>
<circle cx="248.72" cy="289.60" r="1.2" fill="#111"/>
<circle cx="248.72" cy="297.40" r="1.2" fill="#111"/>
<circle cx="248.72" cy="318.30" r="1.2" fill="#111"/>
<circle cx="248.72" cy="319.60" r="1.2" fill="#111"/>
<circle cx="248.72" cy="212.90" r="1.2" fill="#111"/>
<circle cx="248.72" cy="343.00" r="1.2" fill="#111"/>
<line x1="273.01" y1="311.00" x2="273.01" y2="315.70" stroke="#111" stroke-width="1.1" />
<line x1="273.01" y1="341.20" x2="273.01" y2="343.00" stroke="#111" stroke-width="1.1" />
<rect x="265.66" y="315.70" width="14.70" height="25.50" fill="#bebebe" stroke="#151515" stroke-width="1.2"/>
<rect x="266.91" y="316.95" width="12.20" height="23.00" fill="none" stroke="#fff" stroke-opacity="0.55" stroke-width="0.7"/>
<line x1="266.46" y1="326.65" x2="279.56" y2="326.65" stroke="#fff" stroke-width="0.7" stroke-opacity="0.55"/>
<line x1="266.46" y1="329.75" x2="279.56" y2="329.75" stroke="#fff" stroke-width="0.7" stroke-opacity="0.55"/>
<line x1="265.66" y1="328.20" x2="280.36" y2="328.20" stroke="#000" stroke-width="1.8" />
<circle cx="273.01" cy="338.60" r="1.2" fill="#111"/>
<circle cx="273.01" cy="311.00" r="1.2" fill="#111"/>
<circle cx="273.01" cy="343.00" r="1.2" fill="#111"/>
<line x1="297.30" y1="314.50" x2="297.30" y2="325.50" stroke="#111" stroke-width="1.1" />
<line x1="297.30" y1="340.80" x2="297.30" y2="343.70" stroke="#111" stroke-width="1.1" />
<rect x="289.95" y="325.50" width="14.70" height="15.30" fill="#bebebe" stroke="#151515" stroke-width="1.2"/>
<rect x="291.20" y="326.75" width="12.20" height="12.80" fill="none" stroke="#fff" stroke-opacity="0.55" stroke-width="0.7"/>
<line x1="290.75" y1="331.15" x2="303.85" y2="331.15" stroke="#fff" stroke-width="0.7" stroke-opacity="0.55"/>
<line x1="290.75" y1="334.25" x2="303.85" y2="334.25" stroke="#fff" stroke-width="0.7" stroke-opacity="0.55"/>
<line x1="289.95" y1="332.70" x2="304.65" y2="332.70" stroke="#000" stroke-width="1.8" />
<circle cx="297.30" cy="314.50" r="1.2" fill="#111"/>
<circle cx="297.30" cy="343.70" r="1.2" fill="#111"/>
<line x1="321.59" y1="319.60" x2="321.59" y2="322.40" stroke="#111" stroke-width="1.1" />
<line x1="321.59" y1="341.20" x2="321.59" y2="342.00" stroke="#111" stroke-width="1.1" />
<rect x="314.24" y="322.40" width="14.70" height="18.80" fill="#bebebe" stroke="#151515" stroke-width="1.2"/>
<rect x="315.49" y="323.65" width="12.20" height="16.30" fill="none" stroke="#fff" stroke-opacity="0.55" stroke-width="0.7"/>
<line x1="315.04" y1="335.05" x2="328.14" y2="335.05" stroke="#fff" stroke-width="0.7" stroke-opacity="0.55"/>
<line x1="315.04" y1="338.15" x2="328.14" y2="338.15" stroke="#fff" stroke-width="0.7" stroke-opacity="0.55"/>
<line x1="314.24" y1="336.60" x2="328.94" y2="336.60" stroke="#000" stroke-width="1.8" />
<circle cx="321.59" cy="330.50" r="1.2" fill="#111"/>
<circle cx="321.59" cy="319.60" r="1.2" fill="#111"/>
<circle cx="321.59" cy="342.00" r="1.2" fill="#111"/>
</g>
<g clip-path="url(#cBR)">
<line x1="384.90" y1="343.00" x2="384.90" y2="343.00" stroke="#111" stroke-width="1.1" />
<line x1="384.90" y1="344.00" x2="384.90" y2="344.20" stroke="#111" stroke-width="1.1" />
<rect x="379.90" y="343.00" width="10.00" height="1.00" fill="#e6e6e6" stroke="#151515" stroke-width="1.2"/>
<line x1="379.90" y1="343.50" x2="389.90" y2="343.50" stroke="#000" stroke-width="1.8" />
<circle cx="384.90" cy="343.00" r="1.2" fill="#111"/>
<circle cx="384.90" cy="344.20" r="1.2" fill="#111"/>
<circle cx="384.90" cy="335.00" r="1.7" fill="#000"/>
<line x1="401.09" y1="333.60" x2="401.09" y2="337.20" stroke="#111" stroke-width="1.1" />
<line x1="401.09" y1="342.40" x2="401.09" y2="343.40" stroke="#111" stroke-width="1.1" />
<rect x="396.09" y="337.20" width="10.00" height="5.20" fill="#e6e6e6" stroke="#151515" stroke-width="1.2"/>
<rect x="397.34" y="338.45" width="7.50" height="2.70" fill="none" stroke="#fff" stroke-opacity="0.55" stroke-width="0.7"/>
<line x1="396.89" y1="338.85" x2="405.29" y2="338.85" stroke="#fff" stroke-width="0.7" stroke-opacity="0.55"/>
<line x1="396.09" y1="340.40" x2="406.09" y2="340.40" stroke="#000" stroke-width="1.8" />
<circle cx="401.09" cy="333.60" r="1.2" fill="#111"/>
<circle cx="401.09" cy="343.40" r="1.2" fill="#111"/>
<circle cx="401.09" cy="317.00" r="1.7" fill="#000"/>
<line x1="417.28" y1="343.00" x2="417.28" y2="343.10" stroke="#111" stroke-width="1.1" />
<line x1="417.28" y1="344.00" x2="417.28" y2="344.20" stroke="#111" stroke-width="1.1" />
<rect x="412.28" y="343.10" width="10.00" height="0.90" fill="#e6e6e6" stroke="#151515" stroke-width="1.2"/>
<line x1="412.28" y1="343.60" x2="422.28" y2="343.60" stroke="#000" stroke-width="1.8" />
<circle cx="417.28" cy="343.00" r="1.2" fill="#111"/>
<circle cx="417.28" cy="344.20" r="1.2" fill="#111"/>
<line x1="433.47" y1="327.40" x2="433.47" y2="332.60" stroke="#111" stroke-width="1.1" />
<line x1="433.47" y1="342.80" x2="433.47" y2="343.60" stroke="#111" stroke-width="1.1" />
<rect x="428.47" y="332.60" width="10.00" height="10.20" fill="#bebebe" stroke="#151515" stroke-width="1.2"/>
<rect x="429.72" y="333.85" width="7.50" height="7.70" fill="none" stroke="#fff" stroke-opacity="0.55" stroke-width="0.7"/>
<line x1="429.27" y1="336.05" x2="437.67" y2="336.05" stroke="#fff" stroke-width="0.7" stroke-opacity="0.55"/>
<line x1="428.47" y1="334.50" x2="438.47" y2="334.50" stroke="#000" stroke-width="1.8" />
<circle cx="433.47" cy="327.40" r="1.2" fill="#111"/>
<circle cx="433.47" cy="343.60" r="1.2" fill="#111"/>
<line x1="449.66" y1="338.80" x2="449.66" y2="338.80" stroke="#111" stroke-width="1.1" />
<line x1="449.66" y1="343.40" x2="449.66" y2="344.00" stroke="#111" stroke-width="1.1" />
<rect x="444.66" y="338.80" width="10.00" height="4.60" fill="#e6e6e6" stroke="#151515" stroke-width="1.2"/>
<rect x="445.91" y="340.05" width="7.50" height="2.10" fill="none" stroke="#fff" stroke-opacity="0.55" stroke-width="0.7"/>
<line x1="445.46" y1="340.45" x2="453.86" y2="340.45" stroke="#fff" stroke-width="0.7" stroke-opacity="0.55"/>
<line x1="444.66" y1="342.00" x2="454.66" y2="342.00" stroke="#000" stroke-width="1.8" />
<circle cx="449.66" cy="338.80" r="1.2" fill="#111"/>
<circle cx="449.66" cy="344.00" r="1.2" fill="#111"/>
<circle cx="449.66" cy="323.90" r="1.7" fill="#000"/>
<circle cx="449.66" cy="330.00" r="1.7" fill="#000"/>
<line x1="465.85" y1="334.00" x2="465.85" y2="339.40" stroke="#111" stroke-width="1.1" />
<line x1="465.85" y1="343.40" x2="465.85" y2="344.00" stroke="#111" stroke-width="1.1" />
<rect x="460.85" y="339.40" width="10.00" height="4.00" fill="#e6e6e6" stroke="#151515" stroke-width="1.2"/>
<rect x="462.10" y="340.65" width="7.50" height="1.50" fill="none" stroke="#fff" stroke-opacity="0.55" stroke-width="0.7"/>
<line x1="461.65" y1="340.45" x2="470.05" y2="340.45" stroke="#fff" stroke-width="0.7" stroke-opacity="0.55"/>
<line x1="460.85" y1="342.00" x2="470.85" y2="342.00" stroke="#000" stroke-width="1.8" />
<circle cx="465.85" cy="334.00" r="1.2" fill="#111"/>
<circle cx="465.85" cy="344.00" r="1.2" fill="#111"/>
<circle cx="465.85" cy="317.70" r="1.7" fill="#000"/>
<line x1="482.04" y1="293.30" x2="482.04" y2="312.70" stroke="#111" stroke-width="1.1" />
<line x1="482.04" y1="342.20" x2="482.04" y2="343.00" stroke="#111" stroke-width="1.1" />
<rect x="477.04" y="312.70" width="10.00" height="29.50" fill="#bebebe" stroke="#151515" stroke-width="1.2"/>
<rect x="478.29" y="313.95" width="7.50" height="27.00" fill="none" stroke="#fff" stroke-opacity="0.55" stroke-width="0.7"/>
<line x1="477.84" y1="339.45" x2="486.24" y2="339.45" stroke="#fff" stroke-width="0.7" stroke-opacity="0.55"/>
<line x1="477.04" y1="341.00" x2="487.04" y2="341.00" stroke="#000" stroke-width="1.8" />
<circle cx="482.04" cy="293.30" r="1.2" fill="#111"/>
<circle cx="482.04" cy="343.00" r="1.2" fill="#111"/>
<line x1="498.23" y1="333.10" x2="498.23" y2="340.00" stroke="#111" stroke-width="1.1" />
<line x1="498.23" y1="342.00" x2="498.23" y2="343.60" stroke="#111" stroke-width="1.1" />
<rect x="493.23" y="340.00" width="10.00" height="2.00" fill="#e6e6e6" stroke="#151515" stroke-width="1.2"/>
<line x1="493.23" y1="341.00" x2="503.23" y2="341.00" stroke="#000" stroke-width="1.8" />
<circle cx="498.23" cy="333.10" r="1.2" fill="#111"/>
<circle cx="498.23" cy="343.60" r="1.2" fill="#111"/>
<line x1="514.42" y1="326.90" x2="514.42" y2="332.20" stroke="#111" stroke-width="1.1" />
<line x1="514.42" y1="342.20" x2="514.42" y2="343.40" stroke="#111" stroke-width="1.1" />
<rect x="509.42" y="332.20" width="10.00" height="10.00" fill="#bebebe" stroke="#151515" stroke-width="1.2"/>
<rect x="510.67" y="333.45" width="7.50" height="7.50" fill="none" stroke="#fff" stroke-opacity="0.55" stroke-width="0.7"/>
<line x1="510.22" y1="337.35" x2="518.62" y2="337.35" stroke="#fff" stroke-width="0.7" stroke-opacity="0.55"/>
<line x1="510.22" y1="340.45" x2="518.62" y2="340.45" stroke="#fff" stroke-width="0.7" stroke-opacity="0.55"/>
<line x1="509.42" y1="338.90" x2="519.42" y2="338.90" stroke="#000" stroke-width="1.8" />
<circle cx="514.42" cy="326.90" r="1.2" fill="#111"/>
<circle cx="514.42" cy="343.40" r="1.2" fill="#111"/>
<circle cx="514.42" cy="212.10" r="1.7" fill="#000"/>
<circle cx="514.42" cy="223.90" r="1.7" fill="#000"/>
<line x1="530.61" y1="340.00" x2="530.61" y2="340.00" stroke="#111" stroke-width="1.1" />
<line x1="530.61" y1="344.00" x2="530.61" y2="344.20" stroke="#111" stroke-width="1.1" />
<rect x="525.61" y="340.00" width="10.00" height="4.00" fill="#e6e6e6" stroke="#151515" stroke-width="1.2"/>
<rect x="526.86" y="341.25" width="7.50" height="1.50" fill="none" stroke="#fff" stroke-opacity="0.55" stroke-width="0.7"/>
<line x1="525.61" y1="342.00" x2="535.61" y2="342.00" stroke="#000" stroke-width="1.8" />
<circle cx="530.61" cy="340.00" r="1.2" fill="#111"/>
<circle cx="530.61" cy="344.20" r="1.2" fill="#111"/>
<circle cx="530.61" cy="288.00" r="1.7" fill="#000"/>
<circle cx="530.61" cy="311.10" r="1.7" fill="#000"/>
<line x1="546.80" y1="342.00" x2="546.80" y2="342.00" stroke="#111" stroke-width="1.1" />
<line x1="546.80" y1="343.20" x2="546.80" y2="343.80" stroke="#111" stroke-width="1.1" />
<rect x="541.80" y="342.00" width="10.00" height="1.20" fill="#e6e6e6" stroke="#151515" stroke-width="1.2"/>
<line x1="541.80" y1="342.50" x2="551.80" y2="342.50" stroke="#000" stroke-width="1.8" />
<circle cx="546.80" cy="342.00" r="1.2" fill="#111"/>
<circle cx="546.80" cy="343.80" r="1.2" fill="#111"/>
<line x1="562.99" y1="340.40" x2="562.99" y2="340.40" stroke="#111" stroke-width="1.1" />
<line x1="562.99" y1="344.00" x2="562.99" y2="344.20" stroke="#111" stroke-width="1.1" />
<rect x="557.99" y="340.40" width="10.00" height="3.60" fill="#e6e6e6" stroke="#151515" stroke-width="1.2"/>
<rect x="559.24" y="341.65" width="7.50" height="1.10" fill="none" stroke="#fff" stroke-opacity="0.55" stroke-width="0.7"/>
<line x1="557.99" y1="342.00" x2="567.99" y2="342.00" stroke="#000" stroke-width="1.8" />
<circle cx="562.99" cy="340.40" r="1.2" fill="#111"/>
<circle cx="562.99" cy="344.20" r="1.2" fill="#111"/>
<circle cx="562.99" cy="279.10" r="1.7" fill="#000"/>
</g>
<line x1="39.50" y1="5.80" x2="39.50" y2="182.20" stroke="#444" stroke-width="1" />
<line x1="37.30" y1="174.40" x2="39.50" y2="174.40" stroke="#222" stroke-width="1" />
<text transform="translate(36.10,178.50) scale(0.2500,0.2500)" font-size="40.00" text-anchor="end" font-weight="normal" fill="#111" stroke="#111" stroke-width="0.48"><tspan font-size="40.00">0.0</tspan></text>
<line x1="37.30" y1="158.35" x2="39.50" y2="158.35" stroke="#222" stroke-width="1" />
<text transform="translate(36.10,162.45) scale(0.2500,0.2500)" font-size="40.00" text-anchor="end" font-weight="normal" fill="#111" stroke="#111" stroke-width="0.48"><tspan font-size="40.00">0.1</tspan></text>
<line x1="37.30" y1="142.30" x2="39.50" y2="142.30" stroke="#222" stroke-width="1" />
<text transform="translate(36.10,146.40) scale(0.2500,0.2500)" font-size="40.00" text-anchor="end" font-weight="normal" fill="#111" stroke="#111" stroke-width="0.48"><tspan font-size="40.00">0.2</tspan></text>
<line x1="37.30" y1="126.25" x2="39.50" y2="126.25" stroke="#222" stroke-width="1" />
<text transform="translate(36.10,130.35) scale(0.2500,0.2500)" font-size="40.00" text-anchor="end" font-weight="normal" fill="#111" stroke="#111" stroke-width="0.48"><tspan font-size="40.00">0.3</tspan></text>
<line x1="37.30" y1="110.20" x2="39.50" y2="110.20" stroke="#222" stroke-width="1" />
<text transform="translate(36.10,114.30) scale(0.2500,0.2500)" font-size="40.00" text-anchor="end" font-weight="normal" fill="#111" stroke="#111" stroke-width="0.48"><tspan font-size="40.00">0.4</tspan></text>
<line x1="37.30" y1="94.15" x2="39.50" y2="94.15" stroke="#222" stroke-width="1" />
<text transform="translate(36.10,98.25) scale(0.2500,0.2500)" font-size="40.00" text-anchor="end" font-weight="normal" fill="#111" stroke="#111" stroke-width="0.48"><tspan font-size="40.00">0.5</tspan></text>
<line x1="37.30" y1="78.10" x2="39.50" y2="78.10" stroke="#222" stroke-width="1" />
<text transform="translate(36.10,82.20) scale(0.2500,0.2500)" font-size="40.00" text-anchor="end" font-weight="normal" fill="#111" stroke="#111" stroke-width="0.48"><tspan font-size="40.00">0.6</tspan></text>
<line x1="37.30" y1="62.05" x2="39.50" y2="62.05" stroke="#222" stroke-width="1" />
<text transform="translate(36.10,66.15) scale(0.2500,0.2500)" font-size="40.00" text-anchor="end" font-weight="normal" fill="#111" stroke="#111" stroke-width="0.48"><tspan font-size="40.00">0.7</tspan></text>
<line x1="37.30" y1="46.00" x2="39.50" y2="46.00" stroke="#222" stroke-width="1" />
<text transform="translate(36.10,50.10) scale(0.2500,0.2500)" font-size="40.00" text-anchor="end" font-weight="normal" fill="#111" stroke="#111" stroke-width="0.48"><tspan font-size="40.00">0.8</tspan></text>
<line x1="37.30" y1="29.95" x2="39.50" y2="29.95" stroke="#222" stroke-width="1" />
<text transform="translate(36.10,34.05) scale(0.2500,0.2500)" font-size="40.00" text-anchor="end" font-weight="normal" fill="#111" stroke="#111" stroke-width="0.48"><tspan font-size="40.00">0.9</tspan></text>
<line x1="37.30" y1="13.90" x2="39.50" y2="13.90" stroke="#222" stroke-width="1" />
<text transform="translate(36.10,18.00) scale(0.2500,0.2500)" font-size="40.00" text-anchor="end" font-weight="normal" fill="#111" stroke="#111" stroke-width="0.48"><tspan font-size="40.00">1.0</tspan></text>
<line x1="39.00" y1="182.20" x2="336.30" y2="182.20" stroke="#222" stroke-width="1.1" />
<line x1="375.30" y1="5.80" x2="375.30" y2="182.20" stroke="#444" stroke-width="1" />
<line x1="373.10" y1="174.30" x2="375.30" y2="174.30" stroke="#222" stroke-width="1" />
<text transform="translate(371.90,178.40) scale(0.2500,0.2500)" font-size="40.00" text-anchor="end" font-weight="normal" fill="#111" stroke="#111" stroke-width="0.48"><tspan font-size="40.00">0.0</tspan></text>
<line x1="373.10" y1="160.95" x2="375.30" y2="160.95" stroke="#222" stroke-width="1" />
<text transform="translate(371.90,165.05) scale(0.2500,0.2500)" font-size="40.00" text-anchor="end" font-weight="normal" fill="#111" stroke="#111" stroke-width="0.48"><tspan font-size="40.00">0.5</tspan></text>
<line x1="373.10" y1="147.60" x2="375.30" y2="147.60" stroke="#222" stroke-width="1" />
<text transform="translate(371.90,151.70) scale(0.2500,0.2500)" font-size="40.00" text-anchor="end" font-weight="normal" fill="#111" stroke="#111" stroke-width="0.48"><tspan font-size="40.00">1.0</tspan></text>
<line x1="373.10" y1="134.25" x2="375.30" y2="134.25" stroke="#222" stroke-width="1" />
<text transform="translate(371.90,138.35) scale(0.2500,0.2500)" font-size="40.00" text-anchor="end" font-weight="normal" fill="#111" stroke="#111" stroke-width="0.48"><tspan font-size="40.00">1.5</tspan></text>
<line x1="373.10" y1="120.90" x2="375.30" y2="120.90" stroke="#222" stroke-width="1" />
<text transform="translate(371.90,125.00) scale(0.2500,0.2500)" font-size="40.00" text-anchor="end" font-weight="normal" fill="#111" stroke="#111" stroke-width="0.48"><tspan font-size="40.00">2.0</tspan></text>
<line x1="373.10" y1="107.55" x2="375.30" y2="107.55" stroke="#222" stroke-width="1" />
<text transform="translate(371.90,111.65) scale(0.2500,0.2500)" font-size="40.00" text-anchor="end" font-weight="normal" fill="#111" stroke="#111" stroke-width="0.48"><tspan font-size="40.00">2.5</tspan></text>
<line x1="373.10" y1="94.20" x2="375.30" y2="94.20" stroke="#222" stroke-width="1" />
<text transform="translate(371.90,98.30) scale(0.2500,0.2500)" font-size="40.00" text-anchor="end" font-weight="normal" fill="#111" stroke="#111" stroke-width="0.48"><tspan font-size="40.00">3.0</tspan></text>
<line x1="373.10" y1="80.85" x2="375.30" y2="80.85" stroke="#222" stroke-width="1" />
<text transform="translate(371.90,84.95) scale(0.2500,0.2500)" font-size="40.00" text-anchor="end" font-weight="normal" fill="#111" stroke="#111" stroke-width="0.48"><tspan font-size="40.00">3.5</tspan></text>
<line x1="373.10" y1="67.50" x2="375.30" y2="67.50" stroke="#222" stroke-width="1" />
<text transform="translate(371.90,71.60) scale(0.2500,0.2500)" font-size="40.00" text-anchor="end" font-weight="normal" fill="#111" stroke="#111" stroke-width="0.48"><tspan font-size="40.00">4.0</tspan></text>
<line x1="373.10" y1="54.15" x2="375.30" y2="54.15" stroke="#222" stroke-width="1" />
<text transform="translate(371.90,58.25) scale(0.2500,0.2500)" font-size="40.00" text-anchor="end" font-weight="normal" fill="#111" stroke="#111" stroke-width="0.48"><tspan font-size="40.00">4.5</tspan></text>
<line x1="373.10" y1="40.80" x2="375.30" y2="40.80" stroke="#222" stroke-width="1" />
<text transform="translate(371.90,44.90) scale(0.2500,0.2500)" font-size="40.00" text-anchor="end" font-weight="normal" fill="#111" stroke="#111" stroke-width="0.48"><tspan font-size="40.00">5.0</tspan></text>
<line x1="373.10" y1="27.45" x2="375.30" y2="27.45" stroke="#222" stroke-width="1" />
<text transform="translate(371.90,31.55) scale(0.2500,0.2500)" font-size="40.00" text-anchor="end" font-weight="normal" fill="#111" stroke="#111" stroke-width="0.48"><tspan font-size="40.00">5.5</tspan></text>
<line x1="373.10" y1="14.10" x2="375.30" y2="14.10" stroke="#222" stroke-width="1" />
<text transform="translate(371.90,18.20) scale(0.2500,0.2500)" font-size="40.00" text-anchor="end" font-weight="normal" fill="#111" stroke="#111" stroke-width="0.48"><tspan font-size="40.00">6.0</tspan></text>
<line x1="374.80" y1="182.20" x2="572.70" y2="182.20" stroke="#222" stroke-width="1.1" />
<line x1="39.50" y1="193.70" x2="39.50" y2="351.20" stroke="#444" stroke-width="1" />
<line x1="37.30" y1="344.10" x2="39.50" y2="344.10" stroke="#222" stroke-width="1" />
<text transform="translate(36.10,348.20) scale(0.2500,0.2500)" font-size="40.00" text-anchor="end" font-weight="normal" fill="#111" stroke="#111" stroke-width="0.48"><tspan font-size="40.00">0.00</tspan></text>
<line x1="37.30" y1="329.75" x2="39.50" y2="329.75" stroke="#222" stroke-width="1" />
<text transform="translate(36.10,333.85) scale(0.2500,0.2500)" font-size="40.00" text-anchor="end" font-weight="normal" fill="#111" stroke="#111" stroke-width="0.48"><tspan font-size="40.00">0.02</tspan></text>
<line x1="37.30" y1="315.40" x2="39.50" y2="315.40" stroke="#222" stroke-width="1" />
<text transform="translate(36.10,319.50) scale(0.2500,0.2500)" font-size="40.00" text-anchor="end" font-weight="normal" fill="#111" stroke="#111" stroke-width="0.48"><tspan font-size="40.00">0.04</tspan></text>
<line x1="37.30" y1="301.05" x2="39.50" y2="301.05" stroke="#222" stroke-width="1" />
<text transform="translate(36.10,305.15) scale(0.2500,0.2500)" font-size="40.00" text-anchor="end" font-weight="normal" fill="#111" stroke="#111" stroke-width="0.48"><tspan font-size="40.00">0.06</tspan></text>
<line x1="37.30" y1="286.70" x2="39.50" y2="286.70" stroke="#222" stroke-width="1" />
<text transform="translate(36.10,290.80) scale(0.2500,0.2500)" font-size="40.00" text-anchor="end" font-weight="normal" fill="#111" stroke="#111" stroke-width="0.48"><tspan font-size="40.00">0.08</tspan></text>
<line x1="37.30" y1="272.35" x2="39.50" y2="272.35" stroke="#222" stroke-width="1" />
<text transform="translate(36.10,276.45) scale(0.2500,0.2500)" font-size="40.00" text-anchor="end" font-weight="normal" fill="#111" stroke="#111" stroke-width="0.48"><tspan font-size="40.00">0.10</tspan></text>
<line x1="37.30" y1="258.00" x2="39.50" y2="258.00" stroke="#222" stroke-width="1" />
<text transform="translate(36.10,262.10) scale(0.2500,0.2500)" font-size="40.00" text-anchor="end" font-weight="normal" fill="#111" stroke="#111" stroke-width="0.48"><tspan font-size="40.00">0.12</tspan></text>
<line x1="37.30" y1="243.65" x2="39.50" y2="243.65" stroke="#222" stroke-width="1" />
<text transform="translate(36.10,247.75) scale(0.2500,0.2500)" font-size="40.00" text-anchor="end" font-weight="normal" fill="#111" stroke="#111" stroke-width="0.48"><tspan font-size="40.00">0.14</tspan></text>
<line x1="37.30" y1="229.30" x2="39.50" y2="229.30" stroke="#222" stroke-width="1" />
<text transform="translate(36.10,233.40) scale(0.2500,0.2500)" font-size="40.00" text-anchor="end" font-weight="normal" fill="#111" stroke="#111" stroke-width="0.48"><tspan font-size="40.00">0.16</tspan></text>
<line x1="37.30" y1="214.95" x2="39.50" y2="214.95" stroke="#222" stroke-width="1" />
<text transform="translate(36.10,219.05) scale(0.2500,0.2500)" font-size="40.00" text-anchor="end" font-weight="normal" fill="#111" stroke="#111" stroke-width="0.48"><tspan font-size="40.00">0.18</tspan></text>
<line x1="37.30" y1="200.60" x2="39.50" y2="200.60" stroke="#222" stroke-width="1" />
<text transform="translate(36.10,204.70) scale(0.2500,0.2500)" font-size="40.00" text-anchor="end" font-weight="normal" fill="#111" stroke="#111" stroke-width="0.48"><tspan font-size="40.00">0.20</tspan></text>
<line x1="39.00" y1="351.20" x2="336.30" y2="351.20" stroke="#222" stroke-width="1.1" />
<line x1="375.30" y1="193.70" x2="375.30" y2="351.20" stroke="#444" stroke-width="1" />
<line x1="373.10" y1="344.30" x2="375.30" y2="344.30" stroke="#222" stroke-width="1" />
<text transform="translate(371.90,348.40) scale(0.2500,0.2500)" font-size="40.00" text-anchor="end" font-weight="normal" fill="#111" stroke="#111" stroke-width="0.48"><tspan font-size="40.00">0.0</tspan></text>
<line x1="373.10" y1="325.24" x2="375.30" y2="325.24" stroke="#222" stroke-width="1" />
<text transform="translate(371.90,329.34) scale(0.2500,0.2500)" font-size="40.00" text-anchor="end" font-weight="normal" fill="#111" stroke="#111" stroke-width="0.48"><tspan font-size="40.00">0.2</tspan></text>
<line x1="373.10" y1="306.18" x2="375.30" y2="306.18" stroke="#222" stroke-width="1" />
<text transform="translate(371.90,310.28) scale(0.2500,0.2500)" font-size="40.00" text-anchor="end" font-weight="normal" fill="#111" stroke="#111" stroke-width="0.48"><tspan font-size="40.00">0.4</tspan></text>
<line x1="373.10" y1="287.12" x2="375.30" y2="287.12" stroke="#222" stroke-width="1" />
<text transform="translate(371.90,291.22) scale(0.2500,0.2500)" font-size="40.00" text-anchor="end" font-weight="normal" fill="#111" stroke="#111" stroke-width="0.48"><tspan font-size="40.00">0.6</tspan></text>
<line x1="373.10" y1="268.06" x2="375.30" y2="268.06" stroke="#222" stroke-width="1" />
<text transform="translate(371.90,272.16) scale(0.2500,0.2500)" font-size="40.00" text-anchor="end" font-weight="normal" fill="#111" stroke="#111" stroke-width="0.48"><tspan font-size="40.00">0.8</tspan></text>
<line x1="373.10" y1="249.00" x2="375.30" y2="249.00" stroke="#222" stroke-width="1" />
<text transform="translate(371.90,253.10) scale(0.2500,0.2500)" font-size="40.00" text-anchor="end" font-weight="normal" fill="#111" stroke="#111" stroke-width="0.48"><tspan font-size="40.00">1.0</tspan></text>
<line x1="373.10" y1="229.94" x2="375.30" y2="229.94" stroke="#222" stroke-width="1" />
<text transform="translate(371.90,234.04) scale(0.2500,0.2500)" font-size="40.00" text-anchor="end" font-weight="normal" fill="#111" stroke="#111" stroke-width="0.48"><tspan font-size="40.00">1.2</tspan></text>
<line x1="373.10" y1="210.88" x2="375.30" y2="210.88" stroke="#222" stroke-width="1" />
<text transform="translate(371.90,214.98) scale(0.2500,0.2500)" font-size="40.00" text-anchor="end" font-weight="normal" fill="#111" stroke="#111" stroke-width="0.48"><tspan font-size="40.00">1.4</tspan></text>
<line x1="374.80" y1="351.20" x2="572.70" y2="351.20" stroke="#222" stroke-width="1.1" />
<text transform="translate(384.90,17.60) scale(0.2500,0.2500)" font-size="40.80" text-anchor="middle" font-weight="bold" fill="#000"><tspan font-size="40.80">a</tspan></text>
<text transform="translate(402.30,17.60) scale(0.2500,0.2500)" font-size="40.80" text-anchor="middle" font-weight="bold" fill="#000"><tspan font-size="40.80">ab</tspan></text>
<text transform="translate(418.50,17.60) scale(0.2500,0.2500)" font-size="40.80" text-anchor="middle" font-weight="bold" fill="#000"><tspan font-size="40.80">ab</tspan></text>
<text transform="translate(434.70,17.60) scale(0.2500,0.2500)" font-size="40.80" text-anchor="middle" font-weight="bold" fill="#000"><tspan font-size="40.80">ab</tspan></text>
<text transform="translate(452.50,17.60) scale(0.2500,0.2500)" font-size="40.80" text-anchor="middle" font-weight="bold" fill="#000"><tspan font-size="40.80">b</tspan></text>
<text transform="translate(468.50,17.60) scale(0.2500,0.2500)" font-size="40.80" text-anchor="middle" font-weight="bold" fill="#000"><tspan font-size="40.80">b</tspan></text>
<text transform="translate(485.00,17.60) scale(0.2500,0.2500)" font-size="40.80" text-anchor="middle" font-weight="bold" fill="#000"><tspan font-size="40.80">b</tspan></text>
<text transform="translate(500.70,17.60) scale(0.2500,0.2500)" font-size="40.80" text-anchor="middle" font-weight="bold" fill="#000"><tspan font-size="40.80">b</tspan></text>
<text transform="translate(516.80,17.60) scale(0.2500,0.2500)" font-size="40.80" text-anchor="middle" font-weight="bold" fill="#000"><tspan font-size="40.80">b</tspan></text>
<text transform="translate(531.80,17.60) scale(0.2500,0.2500)" font-size="40.80" text-anchor="middle" font-weight="bold" fill="#000"><tspan font-size="40.80">ab</tspan></text>
<text transform="translate(548.00,17.60) scale(0.2500,0.2500)" font-size="40.80" text-anchor="middle" font-weight="bold" fill="#000"><tspan font-size="40.80">ab</tspan></text>
<text transform="translate(564.20,17.60) scale(0.2500,0.2500)" font-size="40.80" text-anchor="middle" font-weight="bold" fill="#000"><tspan font-size="40.80">ab</tspan></text>
<text transform="translate(384.70,204.00) scale(0.2500,0.2500)" font-size="40.80" text-anchor="middle" font-weight="bold" fill="#000"><tspan font-size="40.80">a</tspan></text>
<text transform="translate(402.30,204.00) scale(0.2500,0.2500)" font-size="40.80" text-anchor="middle" font-weight="bold" fill="#000"><tspan font-size="40.80">ab</tspan></text>
<text transform="translate(418.50,204.00) scale(0.2500,0.2500)" font-size="40.80" text-anchor="middle" font-weight="bold" fill="#000"><tspan font-size="40.80">ab</tspan></text>
<text transform="translate(434.70,204.00) scale(0.2500,0.2500)" font-size="40.80" text-anchor="middle" font-weight="bold" fill="#000"><tspan font-size="40.80">ab</tspan></text>
<text transform="translate(450.90,204.00) scale(0.2500,0.2500)" font-size="40.80" text-anchor="middle" font-weight="bold" fill="#000"><tspan font-size="40.80">ab</tspan></text>
<text transform="translate(467.10,204.00) scale(0.2500,0.2500)" font-size="40.80" text-anchor="middle" font-weight="bold" fill="#000"><tspan font-size="40.80">ab</tspan></text>
<text transform="translate(483.00,204.00) scale(0.2500,0.2500)" font-size="40.80" text-anchor="middle" font-weight="bold" fill="#000"><tspan font-size="40.80">ab</tspan></text>
<text transform="translate(499.20,204.00) scale(0.2500,0.2500)" font-size="40.80" text-anchor="middle" font-weight="bold" fill="#000"><tspan font-size="40.80">ab</tspan></text>
<text transform="translate(516.90,204.00) scale(0.2500,0.2500)" font-size="40.80" text-anchor="middle" font-weight="bold" fill="#000"><tspan font-size="40.80">b</tspan></text>
<text transform="translate(532.00,204.00) scale(0.2500,0.2500)" font-size="40.80" text-anchor="middle" font-weight="bold" fill="#000"><tspan font-size="40.80">ab</tspan></text>
<text transform="translate(548.20,204.00) scale(0.2500,0.2500)" font-size="40.80" text-anchor="middle" font-weight="bold" fill="#000"><tspan font-size="40.80">ab</tspan></text>
<text transform="translate(563.80,204.00) scale(0.2500,0.2500)" font-size="40.80" text-anchor="middle" font-weight="bold" fill="#000"><tspan font-size="40.80">ab</tspan></text>
<text transform="translate(3.00,11.90) scale(0.2325,0.2675)" font-size="58.00" text-anchor="start" font-weight="bold" fill="#000"><tspan font-size="58.00">A</tspan></text>
<text transform="translate(3.00,199.70) scale(0.2325,0.2675)" font-size="58.00" text-anchor="start" font-weight="bold" fill="#000"><tspan font-size="58.00">B</tspan></text>
<text transform="translate(11.90,93.60) rotate(-90) scale(0.2500,0.2500)" font-size="39.20" text-anchor="middle" font-weight="normal" fill="#000"><tspan font-size="39.20">MP abundance (items m</tspan><tspan dy="-18.40" font-size="30.40">−2</tspan><tspan dy="18.40" font-size="39.20">)</tspan></text>
<text transform="translate(11.90,272.20) rotate(-90) scale(0.2500,0.2500)" font-size="39.20" text-anchor="middle" font-weight="normal" fill="#000"><tspan font-size="39.20">MP mass (mg m</tspan><tspan dy="-18.40" font-size="30.40">−2</tspan><tspan dy="18.40" font-size="39.20">)</tspan></text>
<text transform="translate(60.40,359.20) rotate(-60) scale(0.2500,0.2500)" font-size="38.40" text-anchor="end" font-weight="normal" fill="#111" stroke="#111" stroke-width="1.00"><tspan font-size="38.40">Llançà</tspan></text>
<text transform="translate(84.69,359.20) rotate(-60) scale(0.2500,0.2500)" font-size="38.40" text-anchor="end" font-weight="normal" fill="#111" stroke="#111" stroke-width="1.00"><tspan font-size="38.40">Palamós</tspan></text>
<text transform="translate(108.98,359.20) rotate(-60) scale(0.2500,0.2500)" font-size="38.40" text-anchor="end" font-weight="normal" fill="#111" stroke="#111" stroke-width="1.00"><tspan font-size="38.40">Arenys de Mar</tspan></text>
<text transform="translate(133.27,359.20) rotate(-60) scale(0.2500,0.2500)" font-size="38.40" text-anchor="end" font-weight="normal" fill="#111" stroke="#111" stroke-width="1.00"><tspan font-size="38.40">Montgat</tspan></text>
<text transform="translate(157.56,359.20) rotate(-60) scale(0.2500,0.2500)" font-size="38.40" text-anchor="end" font-weight="normal" fill="#111" stroke="#111" stroke-width="1.00"><tspan font-size="38.40">Llevant</tspan><tspan dx="2.00" dy="-12.00" font-size="30.00">*</tspan></text>
<text transform="translate(181.85,359.20) rotate(-60) scale(0.2500,0.2500)" font-size="38.40" text-anchor="end" font-weight="normal" fill="#111" stroke="#111" stroke-width="1.00"><tspan font-size="38.40">Mar Bella</tspan><tspan dx="2.00" dy="-12.00" font-size="30.00">*</tspan></text>
<text transform="translate(206.14,359.20) rotate(-60) scale(0.2500,0.2500)" font-size="38.40" text-anchor="end" font-weight="normal" fill="#111" stroke="#111" stroke-width="1.00"><tspan font-size="38.40">Nova Icària</tspan><tspan dx="2.00" dy="-12.00" font-size="30.00">*</tspan></text>
<text transform="translate(230.43,359.20) rotate(-60) scale(0.2500,0.2500)" font-size="38.40" text-anchor="end" font-weight="normal" fill="#111" stroke="#111" stroke-width="1.00"><tspan font-size="38.40">Barceloneta</tspan><tspan dx="2.00" dy="-12.00" font-size="30.00">*</tspan></text>
<text transform="translate(254.72,359.20) rotate(-60) scale(0.2500,0.2500)" font-size="38.40" text-anchor="end" font-weight="normal" fill="#111" stroke="#111" stroke-width="1.00"><tspan font-size="38.40">Sant Sebastià</tspan><tspan dx="2.00" dy="-12.00" font-size="30.00">*</tspan></text>
<text transform="translate(279.01,359.20) rotate(-60) scale(0.2500,0.2500)" font-size="38.40" text-anchor="end" font-weight="normal" fill="#111" stroke="#111" stroke-width="1.00"><tspan font-size="38.40">Castelldefels</tspan></text>
<text transform="translate(303.30,359.20) rotate(-60) scale(0.2500,0.2500)" font-size="38.40" text-anchor="end" font-weight="normal" fill="#111" stroke="#111" stroke-width="1.00"><tspan font-size="38.40">Comarruga</tspan></text>
<text transform="translate(327.59,359.20) rotate(-60) scale(0.2500,0.2500)" font-size="38.40" text-anchor="end" font-weight="normal" fill="#111" stroke="#111" stroke-width="1.00"><tspan font-size="38.40">l'Ametlla de Mar</tspan></text>
<text transform="translate(390.90,359.20) rotate(-60) scale(0.2500,0.2500)" font-size="38.40" text-anchor="end" font-weight="normal" fill="#111" stroke="#111" stroke-width="1.00"><tspan font-size="38.40">Llançà</tspan></text>
<text transform="translate(407.09,359.20) rotate(-60) scale(0.2500,0.2500)" font-size="38.40" text-anchor="end" font-weight="normal" fill="#111" stroke="#111" stroke-width="1.00"><tspan font-size="38.40">Palamós</tspan></text>
<text transform="translate(423.28,359.20) rotate(-60) scale(0.2500,0.2500)" font-size="38.40" text-anchor="end" font-weight="normal" fill="#111" stroke="#111" stroke-width="1.00"><tspan font-size="38.40">Arenys de Mar</tspan></text>
<text transform="translate(439.47,359.20) rotate(-60) scale(0.2500,0.2500)" font-size="38.40" text-anchor="end" font-weight="normal" fill="#111" stroke="#111" stroke-width="1.00"><tspan font-size="38.40">Montgat</tspan></text>
<text transform="translate(455.66,359.20) rotate(-60) scale(0.2500,0.2500)" font-size="38.40" text-anchor="end" font-weight="normal" fill="#111" stroke="#111" stroke-width="1.00"><tspan font-size="38.40">Llevant</tspan><tspan dx="2.00" dy="-12.00" font-size="30.00">*</tspan></text>
<text transform="translate(471.85,359.20) rotate(-60) scale(0.2500,0.2500)" font-size="38.40" text-anchor="end" font-weight="normal" fill="#111" stroke="#111" stroke-width="1.00"><tspan font-size="38.40">Mar Bella</tspan><tspan dx="2.00" dy="-12.00" font-size="30.00">*</tspan></text>
<text transform="translate(488.04,359.20) rotate(-60) scale(0.2500,0.2500)" font-size="38.40" text-anchor="end" font-weight="normal" fill="#111" stroke="#111" stroke-width="1.00"><tspan font-size="38.40">Nova Icària</tspan><tspan dx="2.00" dy="-12.00" font-size="30.00">*</tspan></text>
<text transform="translate(504.23,359.20) rotate(-60) scale(0.2500,0.2500)" font-size="38.40" text-anchor="end" font-weight="normal" fill="#111" stroke="#111" stroke-width="1.00"><tspan font-size="38.40">Barceloneta</tspan><tspan dx="2.00" dy="-12.00" font-size="30.00">*</tspan></text>
<text transform="translate(520.42,359.20) rotate(-60) scale(0.2500,0.2500)" font-size="38.40" text-anchor="end" font-weight="normal" fill="#111" stroke="#111" stroke-width="1.00"><tspan font-size="38.40">Sant Sebastià</tspan><tspan dx="2.00" dy="-12.00" font-size="30.00">*</tspan></text>
<text transform="translate(536.61,359.20) rotate(-60) scale(0.2500,0.2500)" font-size="38.40" text-anchor="end" font-weight="normal" fill="#111" stroke="#111" stroke-width="1.00"><tspan font-size="38.40">Castelldefels</tspan></text>
<text transform="translate(552.80,359.20) rotate(-60) scale(0.2500,0.2500)" font-size="38.40" text-anchor="end" font-weight="normal" fill="#111" stroke="#111" stroke-width="1.00"><tspan font-size="38.40">Comarruga</tspan></text>
<text transform="translate(568.99,359.20) rotate(-60) scale(0.2500,0.2500)" font-size="38.40" text-anchor="end" font-weight="normal" fill="#111" stroke="#111" stroke-width="1.00"><tspan font-size="38.40">l'Ametlla de Mar</tspan></text>
<text transform="translate(1.80,418.30) scale(0.2500,0.2500)" font-size="33.60" text-anchor="start" font-weight="normal" fill="#111" stroke="#111" stroke-width="0.48"><tspan font-size="33.60">(</tspan><tspan dy="-10.00" font-size="24.00">*</tspan><tspan dy="10.00" font-size="33.60">) Barcelona</tspan></text>
</svg>
</body></html>
